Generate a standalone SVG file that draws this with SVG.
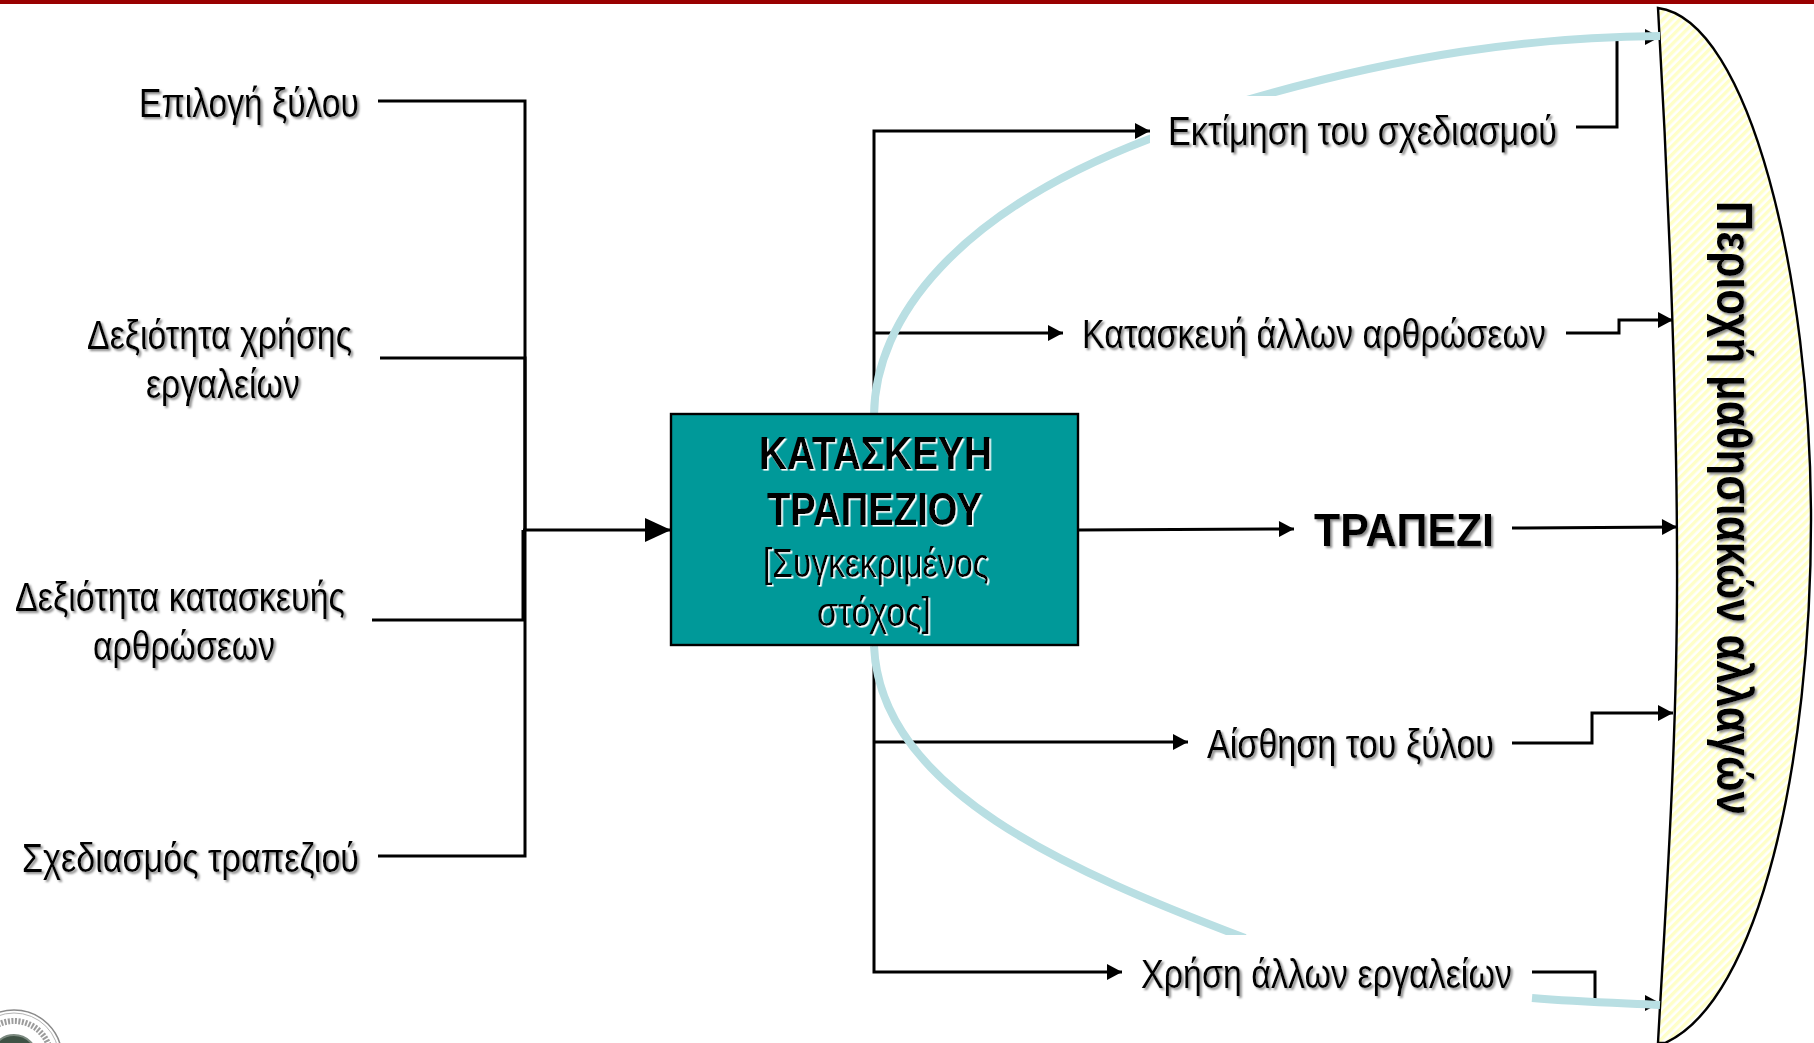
<svg xmlns="http://www.w3.org/2000/svg" width="1814" height="1043" viewBox="0 0 1814 1043">
<style>
text{font-family:"Liberation Sans",Arial,sans-serif;fill:#000}
.t{font-size:40px}
.b{font-size:46px;font-weight:bold}
.ln{fill:none;stroke:#000;stroke-width:3}
.cv{fill:none;stroke:#b9dfe3;stroke-width:8}
</style>
<defs>
<marker id="ah" markerUnits="userSpaceOnUse" markerWidth="16" markerHeight="16" refX="15" refY="8" orient="auto" overflow="visible"><path d="M0,0L15,8L0,16Z" fill="#000"/></marker>
<marker id="ab" markerUnits="userSpaceOnUse" markerWidth="26" markerHeight="26" refX="26" refY="12" orient="auto" overflow="visible"><path d="M0,0L26,12L0,24Z" fill="#000"/></marker>
<pattern id="hatch" width="6" height="6" patternUnits="userSpaceOnUse" patternTransform="rotate(-45)"><rect width="6" height="6" fill="#fff"/><rect width="6" height="3.4" fill="#ffffc8"/></pattern>
<filter id="sg" x="-5%" y="-20%" width="110%" height="140%"><feDropShadow dx="2" dy="2" stdDeviation="0.8" flood-color="#8a8a8a"/></filter>
<filter id="sw" x="-5%" y="-20%" width="110%" height="140%"><feDropShadow dx="1.6" dy="1.6" stdDeviation="0.2" flood-color="#fff"/></filter>
<clipPath id="c1"><rect x="860" y="100" width="290" height="320"/></clipPath>
<clipPath id="c2"><rect x="1200" y="0" width="460" height="96"/></clipPath>
<clipPath id="c3"><rect x="860" y="640" width="500" height="295"/></clipPath>
</defs>
<rect width="1814" height="1043" fill="#fff"/>
<rect id="topbar" width="1814" height="4" fill="#990000"/>
<g id="logo" fill="none">
<circle cx="14" cy="1058" r="48" stroke="#8a8a8a" stroke-width="1.5"/>
<circle cx="14" cy="1058" r="45" stroke="#b5b5b5" stroke-width="1"/>
<circle cx="14" cy="1058" r="37" stroke="#9c9c9c" stroke-width="6" stroke-dasharray="2 1.5"/>
<circle cx="14" cy="1058" r="23" fill="#3f5245" stroke="#7c8a80" stroke-width="2"/>
</g>
<g id="region">
<path d="M1658,8C1750,20 1811,280 1811,520C1811,760 1760,1000 1665,1043L1658,1043C1664,930 1678,740 1677,560C1677,400 1668,180 1658,8Z" fill="url(#hatch)" stroke="#000" stroke-width="2.4"/>
<g filter="url(#sg)"><text class="b" style="font-size:50px" transform="translate(1717,201) rotate(90)" textLength="614" lengthAdjust="spacingAndGlyphs">Περιοχή μαθησιακών αλλαγών</text></g>
</g>
<g id="connectors">
<path class="ln" d="M378,101H525V856H378"/>
<path class="ln" d="M380,358H525V530"/>
<path class="ln" d="M372,620H523V530"/>
<path class="ln" d="M523,530H671" marker-end="url(#ab)"/>
<path class="ln" d="M874,415V131H1150" marker-end="url(#ah)"/>
<path class="ln" d="M874,333H1063" marker-end="url(#ah)"/>
<path class="ln" d="M874,645V972H1122" marker-end="url(#ah)"/>
<path class="ln" d="M874,742H1188" marker-end="url(#ah)"/>
<path class="ln" d="M1078,530L1294,529" marker-end="url(#ah)"/>
<path class="ln" d="M1512,528L1677,527" marker-end="url(#ah)"/>
<path class="ln" d="M1576,127H1617V37H1660" marker-end="url(#ah)"/>
<path class="ln" d="M1566,333H1619V320H1673" marker-end="url(#ah)"/>
<path class="ln" d="M1512,743H1592V713H1673" marker-end="url(#ah)"/>
<path class="ln" d="M1532,972H1595V1003H1660" marker-end="url(#ah)"/>
<path class="cv" clip-path="url(#c1)" d="M874,415C875,320 955,210 1160,135"/>
<path class="cv" clip-path="url(#c2)" d="M1240,102C1400,55 1530,37 1660,36"/>
<path class="cv" clip-path="url(#c3)" d="M874,646C880,790 1069,871 1245,938"/>
<path class="cv" d="M1532,998C1580,1002 1620,1003 1660,1005"/>
</g>
<g id="box"><rect x="671" y="414" width="407" height="231" fill="#009999" stroke="#000" stroke-width="2.4"/>
<g filter="url(#sw)">
<text class="b" x="759" y="469" textLength="233" lengthAdjust="spacingAndGlyphs">ΚΑΤΑΣΚΕΥΗ</text>
<text class="b" x="767" y="525" textLength="215" lengthAdjust="spacingAndGlyphs">ΤΡΑΠΕΖΙΟΥ</text>
<text class="t" x="763" y="577" textLength="226" lengthAdjust="spacingAndGlyphs">[Συγκεκριμένος</text>
<text class="t" x="817" y="626" textLength="114" lengthAdjust="spacingAndGlyphs">στόχος]</text>
</g></g>
<g id="n1" filter="url(#sg)"><text class="t" x="139" y="117" textLength="220" lengthAdjust="spacingAndGlyphs">Επιλογή ξύλου</text></g>
<g id="n2" filter="url(#sg)"><text class="t" x="87" y="349" textLength="265" lengthAdjust="spacingAndGlyphs">Δεξιότητα χρήσης</text><text class="t" x="146" y="398" textLength="154" lengthAdjust="spacingAndGlyphs">εργαλείων</text></g>
<g id="n3" filter="url(#sg)"><text class="t" x="15" y="611" textLength="330" lengthAdjust="spacingAndGlyphs">Δεξιότητα κατασκευής</text><text class="t" x="93" y="660" textLength="182" lengthAdjust="spacingAndGlyphs">αρθρώσεων</text></g>
<g id="n4" filter="url(#sg)"><text class="t" x="22" y="872" textLength="337" lengthAdjust="spacingAndGlyphs">Σχεδιασμός τραπεζιού</text></g>
<g id="n5" filter="url(#sg)"><text class="t" x="1168" y="145" textLength="389" lengthAdjust="spacingAndGlyphs">Εκτίμηση του σχεδιασμού</text></g>
<g id="n6" filter="url(#sg)"><text class="t" x="1082" y="348" textLength="464" lengthAdjust="spacingAndGlyphs">Κατασκευή άλλων αρθρώσεων</text></g>
<g id="n7" filter="url(#sg)"><text class="b" x="1314" y="546" textLength="180" lengthAdjust="spacingAndGlyphs">ΤΡΑΠΕΖΙ</text></g>
<g id="n8" filter="url(#sg)"><text class="t" x="1207" y="758" textLength="287" lengthAdjust="spacingAndGlyphs">Αίσθηση του ξύλου</text></g>
<g id="n9" filter="url(#sg)"><text class="t" x="1141" y="988" textLength="371" lengthAdjust="spacingAndGlyphs">Χρήση άλλων εργαλείων</text></g>
</svg>
